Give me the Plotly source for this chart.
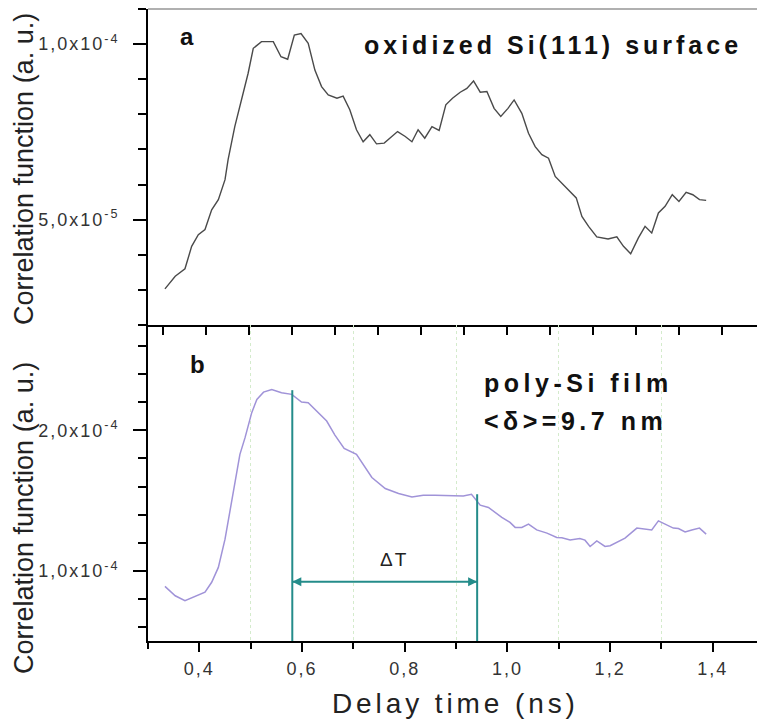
import json
import plotly.graph_objects as go

# ---------------- data ----------------
# Panel a : oxidized Si(111) surface, correlation function in units of 1e-5
top_x = [0.333, 0.353, 0.372, 0.385, 0.398, 0.411, 0.424, 0.437, 0.450, 0.456,
         0.469, 0.483, 0.495, 0.505, 0.521, 0.544, 0.559, 0.572, 0.585, 0.598,
         0.612, 0.625, 0.638, 0.651, 0.668, 0.680, 0.693, 0.706, 0.719, 0.732,
         0.745, 0.760, 0.771, 0.786, 0.801, 0.814, 0.826, 0.839, 0.853, 0.867,
         0.880, 0.893, 0.908, 0.921, 0.934, 0.947, 0.960, 0.974, 0.987, 1.001,
         1.013, 1.028, 1.041, 1.054, 1.067, 1.080, 1.093, 1.109, 1.122, 1.134,
         1.145, 1.158, 1.174, 1.196, 1.213, 1.226, 1.240, 1.255, 1.268, 1.281,
         1.294, 1.307, 1.321, 1.334, 1.348, 1.361, 1.374, 1.387]
top_y_e5 = [3.03, 3.39, 3.60, 4.24, 4.57, 4.72, 5.28, 5.57, 6.14, 6.71,
            7.65, 8.50, 9.17, 9.88, 10.07, 10.07, 9.64, 9.57, 10.26, 10.30,
            10.02, 9.26, 8.79, 8.55, 8.46, 8.52, 8.13, 7.56, 7.22, 7.42,
            7.16, 7.18, 7.32, 7.51, 7.37, 7.22, 7.56, 7.32, 7.65, 7.54,
            8.27, 8.46, 8.63, 8.74, 8.95, 8.63, 8.65, 8.17, 7.94, 8.17,
            8.41, 8.03, 7.46, 7.08, 6.85, 6.75, 6.23, 5.99, 5.80, 5.62,
            5.09, 4.81, 4.51, 4.45, 4.51, 4.24, 4.03, 4.48, 4.81, 4.62,
            5.19, 5.38, 5.71, 5.52, 5.78, 5.71, 5.57, 5.55]

# Panel b : poly-Si film, correlation function in units of 1e-5
bottom_x = [0.333, 0.353, 0.372, 0.392, 0.411, 0.424, 0.437, 0.450, 0.463, 0.473,
            0.479, 0.489, 0.502, 0.512, 0.525, 0.541, 0.560, 0.580, 0.599, 0.612,
            0.632, 0.648, 0.664, 0.682, 0.706, 0.719, 0.736, 0.762, 0.788, 0.814,
            0.836, 0.859, 0.885, 0.914, 0.930, 0.937, 0.947, 0.963, 0.989, 1.005,
            1.015, 1.028, 1.041, 1.057, 1.077, 1.096, 1.106, 1.122, 1.141, 1.151,
            1.161, 1.174, 1.190, 1.200, 1.213, 1.229, 1.252, 1.268, 1.281, 1.294,
            1.307, 1.323, 1.333, 1.346, 1.359, 1.374, 1.387]
bottom_y_e5 = [8.89, 8.22, 7.87, 8.18, 8.47, 9.18, 10.24, 12.25, 15.10, 16.99,
               18.29, 19.48, 21.26, 22.20, 22.72, 22.91, 22.68, 22.56, 22.01, 21.97,
               21.26, 20.66, 19.66, 18.72, 18.29, 17.58, 16.64, 15.86, 15.50, 15.26,
               15.38, 15.38, 15.38, 15.33, 15.45, 15.10, 14.67, 14.51, 13.80, 13.44,
               13.09, 13.09, 13.32, 12.91, 12.68, 12.37, 12.35, 12.20, 12.30, 12.18,
               11.73, 12.13, 11.73, 11.78, 12.02, 12.32, 13.04, 12.96, 12.91, 13.55,
               13.32, 13.04, 13.01, 12.77, 12.91, 13.04, 12.61]
y_unit = 1e-5

# axes / ticks
x_range = [0.3, 1.486]
x_tick_vals = [0.4, 0.6, 0.8, 1.0, 1.2, 1.4]
x_tick_text = ["0,4", "0,6", "0,8", "1,0", "1,2", "1,4"]
top_y_range = [2.0e-5, 1.1e-4]
top_y_tick_vals = [5e-5, 1e-4]
top_y_tick_text = ["5,0x10<sup>-5</sup>", "1,0x10<sup>-4</sup>"]
bottom_y_range = [5.0e-5, 2.75e-4]
bottom_y_tick_vals = [1e-4, 2e-4]
bottom_y_tick_text = ["1,0x10<sup>-4</sup>", "2,0x10<sup>-4</sup>"]

# Delta T marker (ns, a.u.)
delta_t_start = 0.581
delta_t_end = 0.941
delta_t_start_top = 2.286e-4
delta_t_end_top = 1.545e-4
delta_t_arrow_y = 0.922e-4

# ---------------- figure ----------------
W, H = 757, 721
ML, MR, MT, MB = 148, 0, 9, 80
PW, PH = W - ML - MR, H - MT - MB


def px(xp):
    return (xp - ML) / PW


def py(yp):
    return (H - MB - yp) / PH


FONT = "Liberation Sans, Arial, sans-serif"
TEAL = "#248c8a"

fig = go.Figure()
fig.add_trace(go.Scatter(x=top_x, y=[v * y_unit for v in top_y_e5], mode="lines",
                         line=dict(color="#4a4a4a", width=1.4), xaxis="x", yaxis="y",
                         showlegend=False, hoverinfo="skip"))
fig.add_trace(go.Scatter(x=bottom_x, y=[v * y_unit for v in bottom_y_e5], mode="lines",
                         line=dict(color="#a093d8", width=1.5), xaxis="x2", yaxis="y2",
                         showlegend=False, hoverinfo="skip"))
# Delta T double arrow (arrow symbols have their tip on the data point)
fig.add_trace(go.Scatter(x=[delta_t_start, delta_t_end], y=[delta_t_arrow_y, delta_t_arrow_y],
                         mode="lines+markers", line=dict(color=TEAL, width=2),
                         marker=dict(symbol=["arrow-left", "arrow-right"], size=9, color=TEAL,
                                     line=dict(width=0)),
                         xaxis="x2", yaxis="y2", showlegend=False, hoverinfo="skip"))

tickfont = dict(family=FONT, size=18, color="#333333")

fig.update_layout(
    width=W, height=H,
    margin=dict(l=ML, r=MR, t=MT, b=MB, pad=0),
    paper_bgcolor="white", plot_bgcolor="white",
    font=dict(family=FONT, color="#222222"),
    xaxis=dict(domain=[0, 1], anchor="y", range=x_range, showline=True, linecolor="black",
               linewidth=2, ticks="outside", tickmode="linear", tick0=0.3292, dtick=0.0837,
               ticklen=8, tickwidth=1.5, tickcolor="black", showticklabels=False,
               showgrid=False, zeroline=False),
    yaxis=dict(domain=[0.5, 1], anchor="x", range=top_y_range, showline=True, linecolor="black",
               linewidth=2, ticks="outside", tickmode="array", tickvals=top_y_tick_vals,
               ticktext=top_y_tick_text, ticklen=13, tickwidth=1.5, tickcolor="black",
               tickfont=tickfont, ticklabelstandoff=10, showgrid=False, zeroline=False,
               minor=dict(ticks="outside", tickmode="linear", tick0=0, dtick=1e-5, ticklen=8,
                          tickwidth=1.5, tickcolor="black", showgrid=False)),
    xaxis2=dict(domain=[0, 1], anchor="y2", range=x_range, showline=True, linecolor="black",
                linewidth=2, ticks="outside", tickmode="array", tickvals=x_tick_vals,
                ticktext=x_tick_text, ticklen=9, tickwidth=1.5, tickcolor="black",
                tickfont=tickfont, ticklabelstandoff=1, showgrid=False, zeroline=False,
                minor=dict(ticks="outside", tickmode="linear", tick0=0.3, dtick=0.2, ticklen=6,
                           tickwidth=1.5, tickcolor="black", showgrid=True,
                           gridcolor="#d4ebcc", griddash="dot", gridwidth=1)),
    yaxis2=dict(domain=[0, 0.5], anchor="x2", range=bottom_y_range, showline=True,
                linecolor="black", linewidth=2, ticks="outside", tickmode="array",
                tickvals=bottom_y_tick_vals, ticktext=bottom_y_tick_text, ticklen=13,
                tickwidth=1.5, tickcolor="black", tickfont=tickfont, ticklabelstandoff=10,
                showgrid=False, zeroline=False,
                minor=dict(ticks="outside", tickmode="linear", tick0=0, dtick=2e-5, ticklen=8,
                           tickwidth=1.5, tickcolor="black", showgrid=False)),
)

# top border of panel a
fig.add_shape(type="line", xref="paper", yref="paper", x0=0, x1=1, y0=1, y1=1,
              line=dict(color="#b0b0b0", width=2))
# Delta T vertical markers
fig.add_shape(type="line", xref="x2", yref="y2", x0=delta_t_start, x1=delta_t_start,
              y0=bottom_y_range[0], y1=delta_t_start_top, line=dict(color=TEAL, width=2))
fig.add_shape(type="line", xref="x2", yref="y2", x0=delta_t_end, x1=delta_t_end,
              y0=bottom_y_range[0], y1=delta_t_end_top, line=dict(color=TEAL, width=2))

# text annotations: (text, x_px_left, y_px_center, size, bold, letter spacing)
labels = [
    ("a", 178, 36, 24, True, 0),
    ("oxidized Si(111) surface", 362, 44.6, 25, True, 4),
    ("b", 188, 364.6, 24, True, 0),
    ("poly-Si film", 482, 383, 25, True, 4.5),
    ("&lt;δ&gt;=9.7 nm", 482, 421, 25, True, 4.5),
    ("ΔT", 378, 559, 19, False, 2),
    ("Delay time (ns)", 330, 703, 28, False, 3.9),
]
spacing = {}
for text, xl, yc, size, bold, ls in labels:
    idx = len(fig.layout.annotations)
    fig.add_annotation(x=px(xl), y=py(yc), xref="paper", yref="paper", xanchor="left",
                       yanchor="middle", align="left", showarrow=False,
                       text=f"<b>{text}</b>" if bold else text,
                       font=dict(family=FONT, size=size, color="#111111" if bold else "#222222"))
    if ls:
        spacing[idx] = ls

# y-axis titles
for yc in (169, 518):
    fig.add_annotation(x=px(24), y=py(yc), xref="paper", yref="paper", xanchor="center",
                       yanchor="middle", textangle=-90, showarrow=False,
                       text="Correlation function (a. u.)",
                       font=dict(family=FONT, size=27, color="#222222"))

post = """
var gd = document.getElementById('{plot_id}');
var sp = %s;
gd.querySelectorAll('g.xtick text, g.x2tick text, g.ytick text, g.y2tick text').forEach(function(t){
  t.style.letterSpacing = '2px';
});
gd.querySelectorAll('g.annotation').forEach(function(g){
  var i = g.getAttribute('data-index');
  if (sp[i] !== undefined) {
    var t = g.querySelector('text.annotation-text');
    if (t) { t.style.letterSpacing = sp[i] + 'px'; }
  }
});
""" % json.dumps({str(k): v for k, v in spacing.items()})

fig.write_html("out.html", post_script=post)
